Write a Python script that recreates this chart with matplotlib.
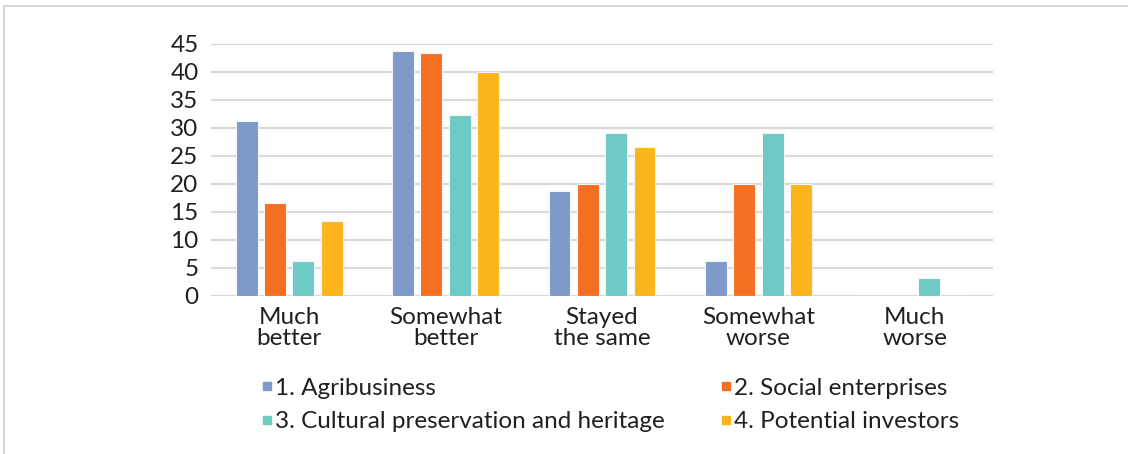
import matplotlib.pyplot as plt
import numpy as np
from matplotlib.patches import Rectangle
from matplotlib.lines import Line2D

plt.rcParams['font.family'] = ['Lato', 'DejaVu Sans']

categories = ['Much\nbetter', 'Somewhat\nbetter', 'Stayed\nthe same', 'Somewhat\nworse', 'Much\nworse']
series_names = ['1. Agribusiness', '2. Social enterprises',
                '3. Cultural preservation and heritage', '4. Potential investors']
agribusiness = [31.25, 43.75, 18.75, 6.25, 0]
social = [16.67, 43.33, 20.0, 20.0, 0]
cultural = [6.25, 32.26, 29.03, 29.03, 3.23]
investors = [13.33, 40.0, 26.67, 20.0, 0]
colors = ['#7f99c9', '#f37022', '#6ecac4', '#fcb51c']

fig = plt.figure(figsize=(11.28, 4.54), dpi=100)
ax = fig.add_axes([211 / 1128, 1 - 296 / 454, 782 / 1128, 252 / 454])

x = np.arange(len(categories))
step = 0.181
width = 0.14
for i, (vals, c) in enumerate(zip([agribusiness, social, cultural, investors], colors)):
    ax.bar(x + (i - 1.5) * step, vals, width, color=c, edgecolor='#f4f4f4', linewidth=0.8, zorder=3)

ax.set_xlim(-0.5, len(categories) - 0.5)
ax.set_ylim(0, 45)
ax.set_yticks(range(0, 46, 5))
ax.yaxis.grid(True, color='#d9d9d9', linewidth=1.6, zorder=0)
ax.set_axisbelow(True)
for s in ax.spines.values():
    s.set_visible(False)
ax.tick_params(axis='both', length=0, labelsize=17.5, colors='#231f20')
ax.tick_params(axis='y', pad=9)
ax.tick_params(axis='x', pad=8)
ax.set_xticks(x)
ax.set_xticklabels(categories, linespacing=1.0)

# legend: matplotlib fills columns first, so reorder to get 1,2 / 3,4 rows
order = [0, 2, 1, 3]
handles = [Line2D([0], [0], marker='s', linestyle='', markersize=6, color=colors[i]) for i in order]
labels = [series_names[i] for i in order]
fig.legend(handles, labels, loc='upper left', bbox_to_anchor=(240 / 1128, 1 - 356 / 454),
           ncol=2, frameon=False, fontsize=17.5, handlelength=0.4, handletextpad=0.15,
           columnspacing=2.3, labelspacing=0.5, labelcolor='#231f20')

# light border round the figure (top and left visible)
fig.add_artist(Rectangle((4 / 1128, -0.1), 1.2, 1 - 6 / 454 + 0.1, transform=fig.transFigure,
                         fill=False, edgecolor='#d6d6d6', linewidth=1.5))

plt.savefig('out.png', dpi=100)
